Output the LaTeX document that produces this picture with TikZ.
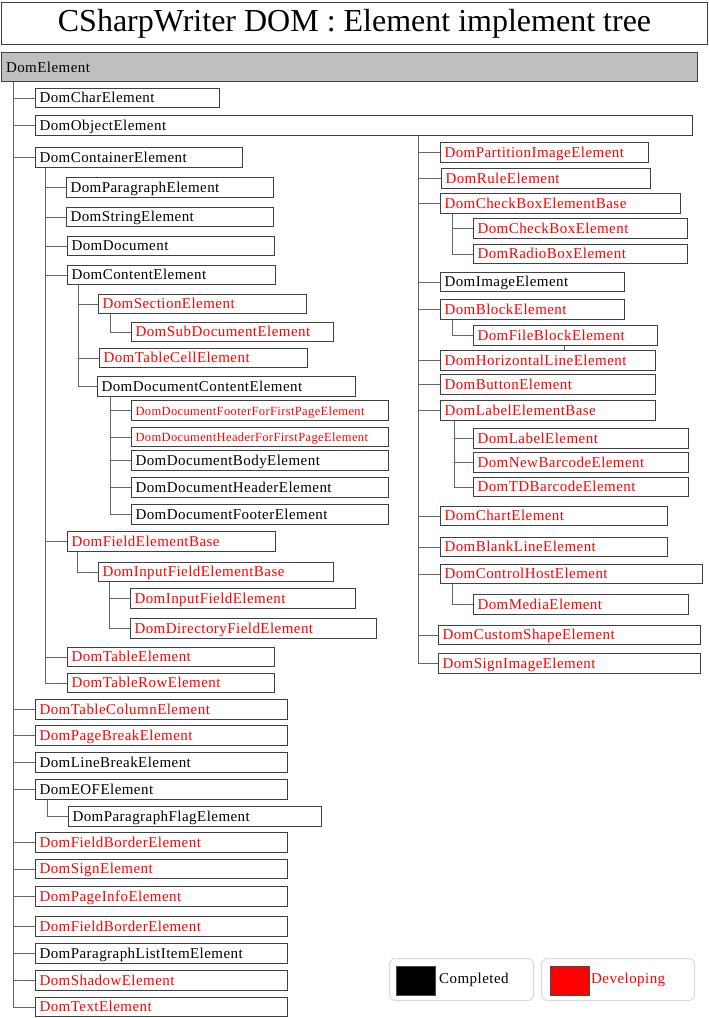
\documentclass[tikz,border=0pt]{standalone}
\usepackage{fontspec}
\setmainfont{Liberation Serif}
\newfontfamily\boxfont{Liberation Serif}[LetterSpace=3]
\usetikzlibrary{positioning, calc}

\begin{document}
\begin{tikzpicture}[
  x=1pt, y=-1pt,
  elem/.style={draw=black!75, line width=1pt, anchor=west, minimum height=19.5pt,
    inner xsep=4pt, inner ysep=0pt, align=left, text height=11pt, text depth=2pt,
    font=\boxfont\fontsize{15}{17}\selectfont},
  dev/.style={elem, text=red},
  small/.style={font=\boxfont\fontsize{12.5}{14}\selectfont},
  link/.style={draw=black!60, line width=1pt},
  legend/.style={draw=black!15, line width=1pt, rounded corners=6pt, minimum height=42pt, anchor=north west},
  swatch/.style={draw=black!70, line width=0.8pt, minimum width=39pt, minimum height=29pt}
]
  \useasboundingbox (0,0) rectangle (709,1018);

  % Title and root
  \node[draw=black!75, line width=1pt, minimum width=706pt, minimum height=42pt, anchor=north west,
    font=\fontsize{32}{36}\selectfont] (Title) at (1,2) {CSharpWriter DOM : Element implement tree};
  \node[draw=black!75, fill=black!25, line width=1pt, minimum width=696pt, minimum height=29pt,
    anchor=north west, inner xsep=5pt, text width=686pt, align=left,
    font=\boxfont\fontsize{15}{17}\selectfont] (Root) at (0.5,52) {DomElement};

  % Level 1
  \node[elem, text width=176pt] (Char) at (35,98) {DomCharElement};
  \node[elem, text width=649pt] (Object) at (35,125.5) {DomObjectElement};
  \node[elem, text width=199pt] (Container) at (35,157.5) {DomContainerElement};
  \node[dev, text width=244pt] (TableColumn) at (35,709.5) {DomTableColumnElement};
  \node[dev, text width=244pt] (PageBreak) at (35,735.5) {DomPageBreakElement};
  \node[elem, text width=244pt] (LineBreak) at (35,762.5) {DomLineBreakElement};
  \node[elem, text width=244pt] (EOF) at (35,789.5) {DomEOFElement};
  \node[dev, text width=244pt] (FieldBorder) at (35,842.5) {DomFieldBorderElement};
  \node[dev, text width=244pt] (Sign) at (35,869) {DomSignElement};
  \node[dev, text width=244pt] (PageInfo) at (35,896.5) {DomPageInfoElement};
  \node[dev, text width=244pt] (FieldBorderB) at (35,926.5) {DomFieldBorderElement};
  \node[elem, text width=244pt] (ParaListItem) at (35,953.5) {DomParagraphListItemElement};
  \node[dev, text width=244pt] (Shadow) at (35,980.5) {DomShadowElement};
  \node[dev, text width=244pt] (TextEl) at (35,1007) {DomTextElement};

  % Children of DomContainerElement
  \node[elem, text width=199pt] (Paragraph) at (66,187.5) {DomParagraphElement};
  \node[elem, text width=199pt] (String) at (66,217) {DomStringElement};
  \node[elem, text width=199pt] (Document) at (67,246) {DomDocument};
  \node[elem, text width=200pt] (Content) at (67,275) {DomContentElement};
  \node[dev, text width=200pt] (FieldBase) at (67,541.5) {DomFieldElementBase};
  \node[dev, text width=199pt] (Table) at (67,657) {DomTableElement};
  \node[dev, text width=199pt] (TableRow) at (67,683) {DomTableRowElement};

  % Level 3 and 4
  \node[dev, text width=200pt] (Section) at (98,304) {DomSectionElement};
  \node[dev, text width=194pt] (SubDoc) at (131,332) {DomSubDocumentElement};
  \node[dev, text width=200pt] (TableCell) at (99,358) {DomTableCellElement};
  \node[elem, text width=250pt] (DocContent) at (97,386.5) {DomDocumentContentElement};
  \node[dev, small, text width=249pt] (FooterFirst) at (131,410.5) {DomDocumentFooterForFirstPageElement};
  \node[dev, small, text width=249pt] (HeaderFirst) at (131,437) {DomDocumentHeaderForFirstPageElement};
  \node[elem, text width=249pt] (Body) at (131,460.5) {DomDocumentBodyElement};
  \node[elem, text width=249pt] (Header) at (131,487.5) {DomDocumentHeaderElement};
  \node[elem, text width=249pt] (Footer) at (131,514.5) {DomDocumentFooterElement};
  \node[dev, text width=227pt] (InputBase) at (98,572) {DomInputFieldElementBase};
  \node[dev, text width=217pt] (InputField) at (130,598.5) {DomInputFieldElement};
  \node[dev, text width=238pt] (DirField) at (130,628.5) {DomDirectoryFieldElement};
  \node[elem, text width=245pt] (ParaFlag) at (68,816.5) {DomParagraphFlagElement};

  % Children of DomObjectElement
  \node[dev, text width=200pt] (PartImage) at (440,152.5) {DomPartitionImageElement};
  \node[dev, text width=201pt] (Rule) at (441,178.5) {DomRuleElement};
  \node[dev, text width=232pt] (CheckBase) at (440,203.5) {DomCheckBoxElementBase};
  \node[dev, text width=206pt] (CheckBox) at (473,228.5) {DomCheckBoxElement};
  \node[dev, text width=206pt] (RadioBox) at (473,254) {DomRadioBoxElement};
  \node[elem, text width=176pt] (Image) at (440,282) {DomImageElement};
  \node[dev, text width=176pt] (Block) at (440,309.5) {DomBlockElement};
  \node[dev, text width=176pt] (FileBlock) at (473,335.5) {DomFileBlockElement};
  \node[dev, text width=207pt] (HorizLine) at (440,360.5) {DomHorizontalLineElement};
  \node[dev, text width=207pt] (Button) at (440,384.5) {DomButtonElement};
  \node[dev, text width=207pt] (LabelBase) at (440,410.5) {DomLabelElementBase};
  \node[dev, text width=207pt] (Label) at (473,438.5) {DomLabelElement};
  \node[dev, text width=207pt] (NewBarcode) at (473,462.5) {DomNewBarcodeElement};
  \node[dev, text width=207pt] (TDBarcode) at (473,487) {DomTDBarcodeElement};
  \node[dev, text width=219pt] (Chart) at (440,516) {DomChartElement};
  \node[dev, text width=219pt] (BlankLine) at (440,547) {DomBlankLineElement};
  \node[dev, text width=254pt] (ControlHost) at (440,574) {DomControlHostElement};
  \node[dev, text width=207pt] (Media) at (473,604.5) {DomMediaElement};
  \node[dev, text width=254pt] (CustomShape) at (438,635) {DomCustomShapeElement};
  \node[dev, text width=254pt] (SignImage) at (438,663.5) {DomSignImageElement};

  % Tree connectors
  \foreach \c in {Char,Object,Container,TableColumn,PageBreak,LineBreak,EOF,FieldBorder,Sign,PageInfo,FieldBorderB,ParaListItem,Shadow,TextEl}
    \draw[link] ([xshift=12.5pt]Root.south west) |- (\c.west);
  \foreach \c in {Paragraph,String,Document,Content,FieldBase,Table,TableRow}
    \draw[link] ([xshift=10pt]Container.south west) |- (\c.west);
  \foreach \c in {Section,TableCell,DocContent}
    \draw[link] ([xshift=11pt]Content.south west) |- (\c.west);
  \draw[link] ([xshift=12pt]Section.south west) |- (SubDoc.west);
  \foreach \c in {FooterFirst,HeaderFirst,Body,Header,Footer}
    \draw[link] ([xshift=13pt]DocContent.south west) |- (\c.west);
  \draw[link] ([xshift=10pt]FieldBase.south west) |- (InputBase.west);
  \foreach \c in {InputField,DirField}
    \draw[link] ([xshift=11pt]InputBase.south west) |- (\c.west);
  \draw[link] ([xshift=12pt]EOF.south west) |- (ParaFlag.west);
  \foreach \c in {PartImage,Rule,CheckBase,Image,Block,HorizLine,Button,LabelBase,Chart,BlankLine,ControlHost,CustomShape,SignImage}
    \draw[link] ([xshift=383pt]Object.south west) |- (\c.west);
  \foreach \c in {CheckBox,RadioBox}
    \draw[link] ([xshift=12pt]CheckBase.south west) |- (\c.west);
  \draw[link] ([xshift=12pt]Block.south west) |- (FileBlock.west);
  \draw[link] ([xshift=91pt]FileBlock.south west) -- ([xshift=91pt]FileBlock.south west |- HorizLine.north);
  \foreach \c in {Label,NewBarcode,TDBarcode}
    \draw[link] ([xshift=14pt]LabelBase.south west) |- (\c.west);
  \draw[link] ([xshift=12pt]ControlHost.south west) |- (Media.west);

  % Legend
  \node[legend, minimum width=144pt] (LegDone) at (389,958) {};
  \node[swatch, fill=black] (SwDone) at (415.5,980.5) {};
  \node[anchor=west, inner sep=0pt, font=\boxfont\fontsize{15}{17}\selectfont] (TxtDone) at (439,980) {Completed};
  \node[legend, minimum width=153pt] (LegDev) at (541,958) {};
  \node[swatch, fill=red] (SwDev) at (569.5,980.5) {};
  \node[anchor=west, inner sep=0pt, text=red, font=\boxfont\fontsize{15}{17}\selectfont] (TxtDev) at (591,980) {Developing};
\end{tikzpicture}
\end{document}
